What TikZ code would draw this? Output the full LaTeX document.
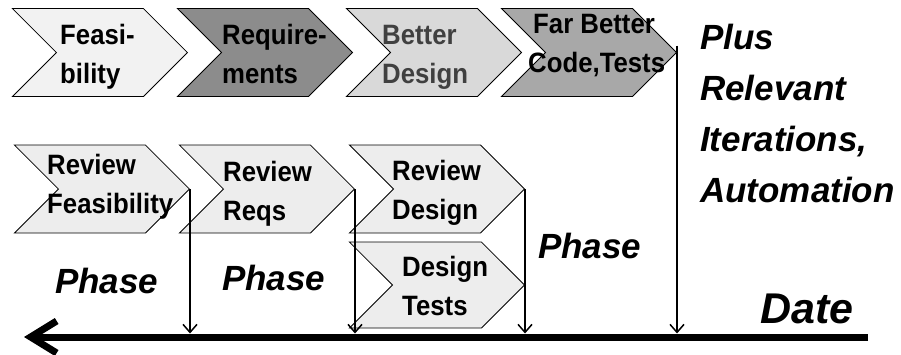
\documentclass[tikz,border=0pt]{standalone}
\usepackage{fontspec}
\setmainfont{Liberation Sans}
\newfontfamily\chevfont[FakeStretch=0.92]{Liberation Sans}
\usetikzlibrary{shapes.symbols,arrows.meta}

\definecolor{chevlight}{HTML}{F2F2F2}
\definecolor{chevdark}{HTML}{8C8C8C}
\definecolor{chevpale}{HTML}{D9D9D9}
\definecolor{chevmid}{HTML}{A8A8A8}
\definecolor{chevreview}{HTML}{EDEDED}
\definecolor{textgray}{HTML}{404040}

\tikzset{
  chev/.style={signal, signal from=west, signal to=east, signal pointer angle=90,
    draw=black, line width=0.8pt, minimum width=175pt, minimum height=88pt,
    inner sep=0pt, anchor=east},
  lbl/.style={anchor=base west, align=left, inner sep=0pt,
    font=\chevfont\bfseries\fontsize{28}{39}\selectfont},
  phase/.style={anchor=base west, inner sep=0pt,
    font=\bfseries\itshape\fontsize{35}{51}\selectfont},
  drop/.style={-{Straight Barb[length=8pt,width=14pt]}, line width=1.5pt},
  timeline/.style={-{Straight Barb[length=26pt,width=32pt]}, line width=7pt},
}

\begin{document}
\begin{tikzpicture}[x=1pt, y=-1pt]
\useasboundingbox (0,0) rectangle (901,354);

% top row
\node[chev, fill=chevlight] (feas) at (188,52.5) {};
\node[chev, fill=chevdark] (req) at (353,52.5) {};
\node[chev, fill=chevpale] (better) at (522,52.5) {};
\node[chev, fill=chevmid] (far) at (677,52.5) {};

\node[lbl] (feastxt) at (60,83) {Feasi-\\bility};
\node[lbl] (reqtxt) at (222,83) {Require-\\ments};
\node[lbl, text=textgray] (bettertxt) at (382,83) {Better\\Design};
\node[lbl] (fartxt) at (528,72) {\hspace{5pt}Far Better\\Code,Tests};

% review row
\node[chev, fill=chevreview] (rfeas) at (190,189) {};
\node[chev, fill=chevreview] (rreq) at (355,189) {};
\node[chev, fill=chevreview] (rdes) at (525,189) {};
\node[chev, fill=chevreview, minimum height=86pt] (dtests) at (525,285) {};

\node[lbl] (rfeastxt) at (47,213) {Review\\Feasibility};
\node[lbl] (rreqtxt) at (223,220) {Review\\Reqs};
\node[lbl] (rdestxt) at (392,219) {Review\\Design};
\node[lbl] (dteststxt) at (402,315) {Design\\Tests};

% phases
\node[phase] (phase1) at (55,293) {Phase};
\node[phase] (phase2) at (222,290) {Phase};
\node[phase] (phase3) at (538,258) {Phase};
\node[phase, align=left, font=\bfseries\itshape\fontsize{35}{50.7}\selectfont] (plus) at (700,202)
  {Plus\\Relevant\\Iterations,\\Automation};
\node[phase, font=\bfseries\itshape\fontsize{43}{50}\selectfont] (date) at (760,323) {Date};

% time axis
\coordinate (tl) at (0,333.5);
\coordinate (tlend) at (868,337);
\coordinate (tlstart) at (24,337);
\draw[drop] (rfeas.east) -- (rfeas.east |- tl);
\draw[drop] (rreq.east) -- (rreq.east |- tl);
\draw[drop] (rdes.east) -- (rdes.east |- tl);
\draw[drop] ([yshift=7pt]far.east) -- (far.east |- tl);
\draw[timeline] (tlend) -- (tlstart);
\end{tikzpicture}
\end{document}
